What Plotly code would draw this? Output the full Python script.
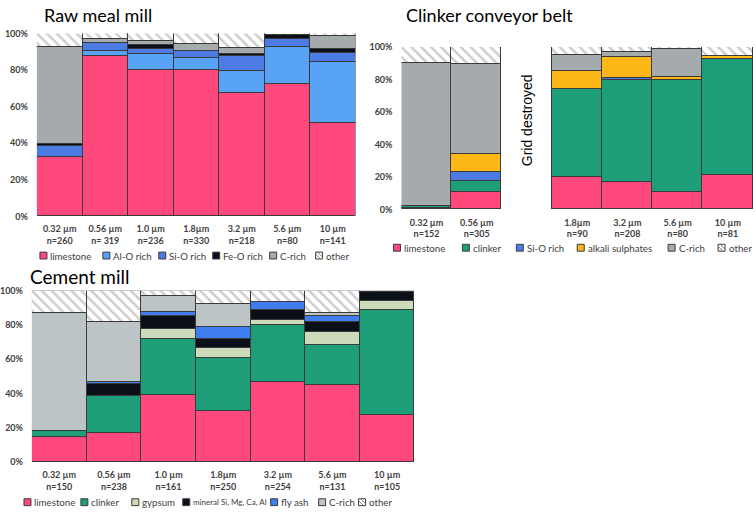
import plotly.graph_objects as go

W, H = 756, 516

# ---------------- data ----------------
raw_cats = ["0.32 µm<br>n=260", "0.56 µm<br>n= 319", "1.0 µm<br>n=236", "1.8µm<br>n=330",
            "3.2 µm<br>n=218", "5.6 µm<br>n=80", "10 µm<br>n=141"]
raw_limestone = [32, 87.5, 80, 80, 67, 72, 51]
raw_alo = [0, 2.9, 8.4, 6.2, 12.5, 20.1, 33.3]
raw_sio = [6, 4.3, 3.0, 4.1, 7.7, 4.8, 5.0]
raw_feo = [1.2, 0, 2.3, 0, 1.2, 2.1, 2.1]
raw_crich = [53, 1.8, 1.8, 3.9, 3.6, 0, 6.8]
raw_other = [7.8, 3.5, 4.5, 5.8, 8.0, 1.0, 1.8]

clk_all_cats = ["0.32 µm<br>n=152", "0.56 µm<br>n=305", " ", "1.8µm<br>n=90",
                "3.2 µm<br>n=208", "5.6 µm<br>n=80", "10 µm<br>n=81"]
clk_cats = ["0.32 µm<br>n=152", "0.56 µm<br>n=305", "1.8µm<br>n=90",
            "3.2 µm<br>n=208", "5.6 µm<br>n=80", "10 µm<br>n=81"]
clk_limestone = [0.6, 11, 19.8, 17, 11, 21.4]
clk_clinker = [1.4, 6.6, 54.3, 62.5, 68.9, 71.2]
clk_sio = [0, 5.4, 0, 1.5, 0, 0]
clk_alkali = [0, 11, 11, 13, 1.6, 2]
clk_crich = [88, 55.4, 10.1, 3.2, 17.1, 0]
clk_other = [10, 10.6, 4.8, 2.8, 1.4, 5.4]

cem_cats = ["0.32 µm<br>n=150", "0.56 µm<br>n=238", "1.0 µm<br>n=161", "1.8µm<br>n=250",
            "3.2 µm<br>n=254", "5.6 µm<br>n=131", "10 µm<br>n=105"]
cem_limestone = [15, 17, 39, 30, 47, 45, 27.6]
cem_clinker = [3, 21.5, 33, 31, 33.2, 23.2, 61.5]
cem_gypsum = [0, 0, 6.1, 5.7, 2.7, 7.6, 4.8]
cem_mineral = [0, 7.2, 7.2, 5.1, 6.3, 6.3, 5.3]
cem_flyash = [0, 1.3, 2.5, 7, 4.2, 3.2, 0]
cem_crich = [69, 35, 9.5, 13.6, 0, 1.9, 0]
cem_other = [13, 18, 2.7, 7.6, 6.6, 12.8, 0.8]

y_ticks = [0, 20, 40, 60, 80, 100]
y_ticktext = ["0%", "20%", "40%", "60%", "80%", "100%"]

# ---------------- styles ----------------
C_LIME = "#FF497D"
C_ALO = "#58A3F5"
C_SIO = "#4C7BE3"
C_BLACK = "#0B0F18"
C_GREY = "#A5AAAC"
C_GREY_LIGHT = "#BDC4C5"
C_CLINKER = "#1D9E78"
C_ALKALI = "#FDB716"
C_GYPSUM = "#CCDBB9"
C_FLY = "#3F7DF0"
EDGE = "#3a3a3a"
TXT = "#404040"
FONT = "Lato"

raw_series = [("limestone", raw_limestone, C_LIME, False), ("Al-O rich", raw_alo, C_ALO, False),
              ("Si-O rich", raw_sio, C_SIO, False), ("Fe-O rich", raw_feo, C_BLACK, False),
              ("C-rich", raw_crich, C_GREY, False), ("other", raw_other, "white", True)]
clk_series = [("limestone", clk_limestone, C_LIME, False), ("clinker", clk_clinker, C_CLINKER, False),
              ("Si-O rich", clk_sio, C_SIO, False), ("alkali sulphates", clk_alkali, C_ALKALI, False),
              ("C-rich", clk_crich, C_GREY, False), ("other", clk_other, "white", True)]
cem_series = [("limestone", cem_limestone, C_LIME, False), ("clinker", cem_clinker, C_CLINKER, False),
              ("gypsum", cem_gypsum, C_GYPSUM, False), ("mineral Si, Mg, Ca, Al", cem_mineral, C_BLACK, False),
              ("fly ash", cem_flyash, C_FLY, False), ("C-rich", cem_crich, C_GREY_LIGHT, False),
              ("other", cem_other, "white", True)]

fig = go.Figure()


def add_panel(series, cats, xa, ya):
    for name, vals, color, hatched in series:
        marker = dict(color=color, line=dict(color=EDGE, width=1))
        if hatched:
            marker["pattern"] = dict(shape="\\", fgcolor="#999999", bgcolor="white",
                                     size=7, solidity=0.35)
        fig.add_trace(go.Bar(x=cats, y=[v if v else None for v in vals], name=name,
                             marker=marker, xaxis=xa, yaxis=ya, showlegend=False))


add_panel(raw_series, raw_cats, "x", "y")
add_panel(clk_series, clk_cats, "x2", "y2")
add_panel(cem_series, cem_cats, "x3", "y3")


def px_x(p):
    return p / W


def px_y(p):
    return 1 - p / H


def xaxis_cfg(l, r, anchor, cats):
    return dict(domain=[px_x(l), px_x(r)], anchor=anchor, type="category",
                categoryorder="array", categoryarray=cats, range=[-0.5, len(cats) - 0.5],
                showgrid=False, zeroline=False, showline=False, ticks="",
                ticklabelstandoff=6,
                tickfont=dict(family=FONT, size=9, color=TXT, weight="bold"))


def yaxis_cfg(t, b, anchor):
    return dict(domain=[px_y(b), px_y(t)], anchor=anchor, range=[0, 100],
                tickvals=y_ticks, ticktext=y_ticktext, showgrid=False, zeroline=False,
                showline=False, ticks="", ticklabelstandoff=8,
                tickfont=dict(family=FONT, size=9, color=TXT, weight="bold"))


fig.update_layout(
    width=W, height=H, margin=dict(l=0, r=0, t=0, b=0),
    paper_bgcolor="white", plot_bgcolor="white",
    barmode="stack", bargap=0,
    font=dict(family=FONT, color=TXT),
    showlegend=False,
    xaxis=xaxis_cfg(36, 355, "y", raw_cats),
    yaxis=yaxis_cfg(28, 215, "x"),
    xaxis2=xaxis_cfg(401, 753, "y2", clk_all_cats),
    yaxis2=yaxis_cfg(42, 208, "x2"),
    xaxis3=xaxis_cfg(31, 414, "y3", cem_cats),
    yaxis3=yaxis_cfg(291, 466, "x3"),
)

annotations = []
shapes = []

# titles
for text, x, y, size in [("Raw meal mill", 41, 9.5, 18), ("Clinker conveyor belt", 404, 9.5, 18),
                         ("Cement mill", 27, 276.5, 19)]:
    annotations.append(dict(text=text, x=px_x(x), y=px_y(y), xref="paper", yref="paper",
                            xanchor="left", yanchor="middle", showarrow=False,
                            font=dict(family=FONT, size=size, color="black")))

annotations.append(dict(text="Grid destroyed", xref="x2 domain", yref="y2 domain",
                        x=2.5 / 7, y=0.55, textangle=-90, showarrow=False,
                        font=dict(family="Liberation Sans", size=14, color="black")))

# legends
legend_layout = [
    (raw_series, [39, 102, 158, 212, 269, 315], 255),
    (clk_series, [393, 462, 516, 577, 668, 718], 247),
    (cem_series, [23, 80, 131, 182, 270, 318, 358], 507),
]
sq = 7
for series, xs, yc in legend_layout:
    for (name, _vals, color, hatched), x0 in zip(series, xs):
        shapes.append(dict(type="rect", xref="paper", yref="paper",
                           x0=px_x(x0), x1=px_x(x0 + sq), y0=px_y(yc + sq / 2), y1=px_y(yc - sq / 2),
                           fillcolor=color, line=dict(color=EDGE, width=1)))
        if hatched:
            for a, b in [((x0, yc - 1.5), (x0 + 5, yc + 3.5)), ((x0 + 2, yc - 3.5), (x0 + 7, yc + 1.5))]:
                shapes.append(dict(type="line", xref="paper", yref="paper",
                                   x0=px_x(a[0]), y0=px_y(a[1]), x1=px_x(b[0]), y1=px_y(b[1]),
                                   line=dict(color="#777777", width=1)))
        fsize = 8.0 if len(name) > 18 else 9.7
        annotations.append(dict(text=name, x=px_x(x0 + sq + 1.5), y=px_y(yc), xref="paper", yref="paper",
                                xanchor="left", yanchor="middle", showarrow=False,
                                font=dict(family=FONT, size=fsize, color=TXT)))

fig.update_layout(annotations=annotations, shapes=shapes)

fig.write_html("out.html")
